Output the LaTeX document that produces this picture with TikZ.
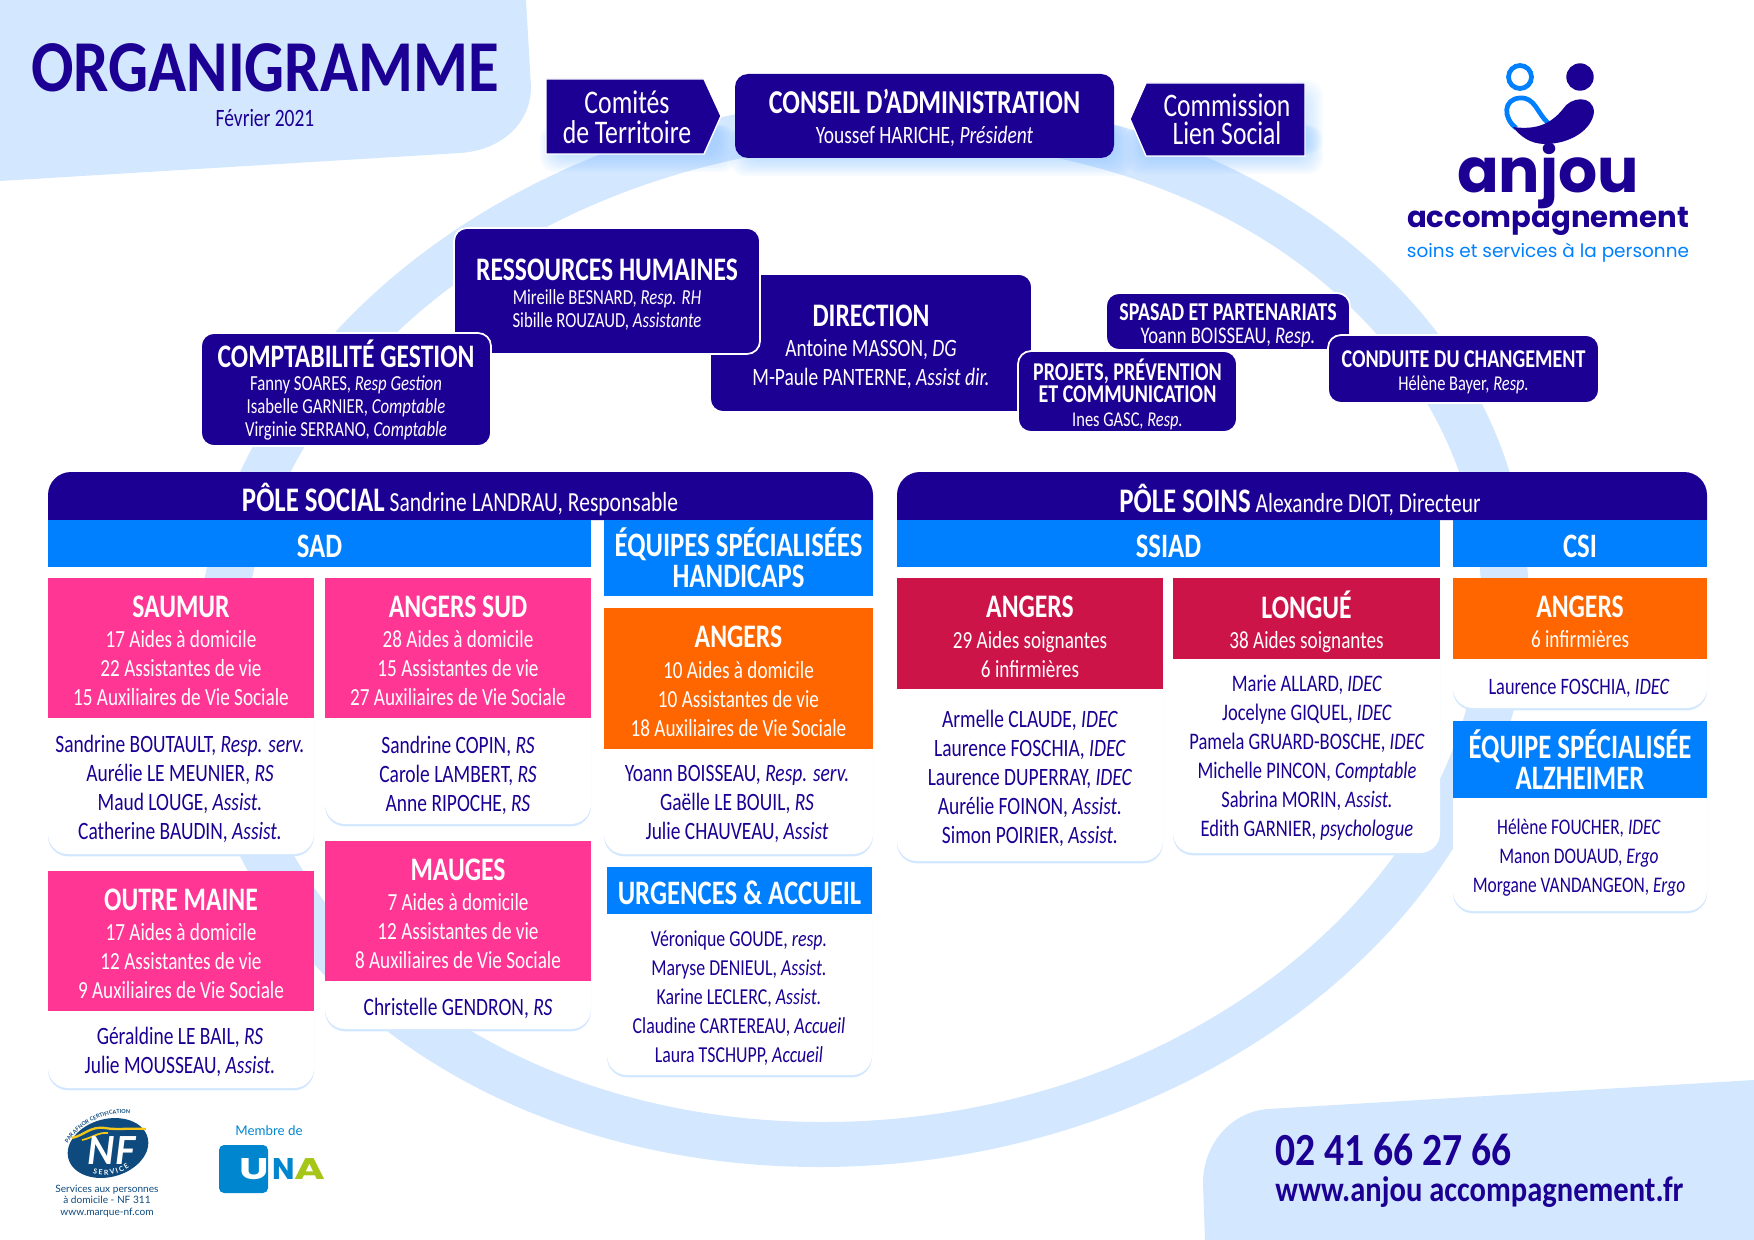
\documentclass[tikz,border=0pt]{standalone}
\usepackage{fontspec}
\setmainfont{Carlito}[FakeStretch=0.78]
\newfontfamily\widefont{Carlito}[FakeStretch=0.86]
\newfontfamily\logofont{Poppins}
\newfontfamily\unafont{Poppins}[FakeStretch=1.4]
\newfontfamily\badgefont{Lato}
\usetikzlibrary{shadows,decorations.text}

\definecolor{navy}{HTML}{1C0094}
\definecolor{ringBlue}{HTML}{D3E7FF}
\definecolor{glowBlue}{HTML}{8CC4FF}
\definecolor{barBlue}{HTML}{0080FF}
\definecolor{pinkPole}{HTML}{FF3693}
\definecolor{orangePole}{HTML}{FF6600}
\definecolor{redPole}{HTML}{CC1449}
\definecolor{nfBlue}{HTML}{0E4A7D}
\definecolor{nfYellow}{HTML}{F5C518}
\definecolor{unaBlue}{HTML}{0085CF}
\definecolor{unaGreen}{HTML}{A5C617}

\newcommand{\bigtitle}{\fontsize{18.7}{20}\selectfont\bfseries}
\newcommand{\smalltitle}{\fontsize{14.6}{16}\selectfont\bfseries}
\newcommand{\capfix}[1]{\rule{0pt}{#1pt}}

\begin{document}
\begin{tikzpicture}[x=0.02cm,y=-0.02cm,
    span/.style n args={4}{at={({(#1+#3)/2},{(#2+#4)/2})}, minimum width={(#3-#1)*0.02cm}, minimum height={(#4-#2)*0.02cm}},
    card/.style={rectangle, fill=white, rounded corners=0.4cm, inner sep=0pt, outer sep=0pt,
        drop shadow={shadow xshift=0pt, shadow yshift=-1.3pt, opacity=1, fill=ringBlue}},
    header/.style={rectangle, inner sep=0pt, outer sep=0pt, text=white, align=center,
        font=\fontsize{14}{16.44}\selectfont},
    bar/.style={rectangle, fill=barBlue, inner sep=0pt, outer sep=0pt, text=white, align=center,
        font=\fontsize{19.5}{17.6}\selectfont\bfseries},
    names/.style={text=navy, align=center, inner sep=0pt, font=\fontsize{14.2}{16.5}\selectfont},
    direction/.style={rectangle, fill=navy, draw=white, line width=1pt, rounded corners=0.26cm, inner sep=0pt,
        outer sep=0pt, text=white, align=center, font=\fontsize{12.2}{13.1}\selectfont},
    chevron/.style={fill=navy, draw=white, line width=0.8pt},
    poleHead/.style={text=white, inner sep=0pt, font=\fontsize{15.7}{17}\selectfont}
]
\useasboundingbox (0,0) rectangle (1754,1240);

% Background shapes
\fill[ringBlue] (0,0) -- (526,0) -- (531,87) .. controls (531,120) and (505,150) .. (460,153) -- (0,181) -- cycle;
\fill[ringBlue] (1754,1080) -- (1268,1109) .. controls (1230,1112) and (1203,1145) .. (1203,1183) -- (1205,1240) -- (1754,1240) -- cycle;

% Ring
\fill[ringBlue, even odd rule, shift={(862,632)}, xslant=0.08] (0,0) circle [x radius=665, y radius=535] (0,0) circle [x radius=618, y radius=490];

% Glow below the top boxes
\foreach \g in {2,4,...,20} {
    \fill[glowBlue, opacity=0.07, rounded corners=0.3cm] (560-\g,125) rectangle (716+\g,152+\g);
    \fill[glowBlue, opacity=0.07, rounded corners=0.3cm] (750-\g,125) rectangle (1112+\g,156+\g);
    \fill[glowBlue, opacity=0.07, rounded corners=0.3cm] (1146-\g,125) rectangle (1303+\g,154+\g);
    \fill[glowBlue, opacity=0.05, rounded corners=0.3cm] (1285,100-\g) rectangle (1303+\g,154);
}

% Title
\node[text=navy, inner sep=0pt, font=\widefont\fontsize{41.6}{44}\selectfont\bfseries] (title) at (265,68) {ORGANIGRAMME};
\node[text=navy, inner sep=0pt, font=\fontsize{14.2}{15}\selectfont] (date) at (265,118) {Février 2021};

% Conseil row
\fill[chevron] (546,79) -- (704,79) -- (721,116) -- (704,154) -- (546,154) -- cycle;
\node[text=white, inner sep=0pt, align=center, font=\fontsize{18.8}{17}\selectfont] (comites) at (627,117) {Comités\\de Territoire};
\node[direction, draw=none, span={735}{74}{1114}{158}, font=\fontsize{14.2}{16.8}\selectfont] (conseil) {\capfix{16}{\fontsize{19}{20}\selectfont\bfseries CONSEIL D’ADMINISTRATION}\\Youssef HARICHE, \textit{Président}};
\fill[chevron] (1146,83) -- (1305,83) -- (1305,156) -- (1146,156) -- (1130,119) -- cycle;
\node[text=white, inner sep=0pt, align=center, font=\fontsize{18.7}{16}\selectfont] (commission) at (1227,119) {Commission\\Lien Social};

% Directions, the overlapping boxes go last
\node[direction, span={710}{274}{1032}{412}, font=\fontsize{14.2}{16.44}\selectfont] (direction) {\capfix{17}{\bigtitle DIRECTION}\\[0.7pt]Antoine MASSON, \textit{DG}\\M-Paule PANTERNE, \textit{Assist dir.}};
\node[direction, span={454}{228}{760}{354}, font=\fontsize{12.2}{13.5}\selectfont] (rh) {\capfix{16.4}{\bigtitle RESSOURCES HUMAINES}\\Mireille BESNARD, \textit{Resp. RH}\\Sibille ROUZAUD, \textit{Assistante}};
\node[direction, span={201}{333}{491}{446}] (compta) {\capfix{16.6}{\bigtitle COMPTABILITÉ GESTION}\\[-0.3pt]Fanny SOARES, \textit{Resp Gestion}\\Isabelle GARNIER, \textit{Comptable}\\Virginie SERRANO, \textit{Comptable}};
\node[direction, span={1106}{293}{1350}{350}, font=\fontsize{13.6}{13}\selectfont] (spasad) {\capfix{14.3}{\smalltitle SPASAD ET PARTENARIATS}\\Yoann BOISSEAU, \textit{Resp.}};
\node[direction, span={1018}{351}{1237}{432}, font=\fontsize{12}{13}\selectfont] (projets) {\capfix{15.8}{\smalltitle PROJETS, PRÉVENTION}\\[-0.5pt]{\smalltitle ET COMMUNICATION}\\[1pt]Ines GASC, \textit{Resp.}};
\node[direction, span={1328}{335}{1599}{403}, font=\fontsize{12}{12.8}\selectfont] (conduite) {\capfix{13.1}{\smalltitle CONDUITE DU CHANGEMENT}\\Hélène Bayer, \textit{Resp.}};

% Pole headers
\fill[navy] (48,520) [rounded corners=0.46cm] -- (48,472) -- (873,472) [sharp corners] -- (873,520) -- cycle;
\fill[navy] (897,520) [rounded corners=0.46cm] -- (897,472) -- (1707,472) [sharp corners] -- (1707,520) -- cycle;
\node[poleHead] (poleSocial) at (460,500) {{\fontsize{19.6}{20}\selectfont\bfseries PÔLE SOCIAL} Sandrine LANDRAU, Responsable};
\node[poleHead] (poleSoins) at (1300,500) {{\fontsize{19.6}{20}\selectfont\bfseries PÔLE SOINS} Alexandre DIOT, Directeur};

% Blue bars
\node[bar, span={48}{520}{591}{567}] (barSad) {\capfix{16.3}SAD};
\node[bar, span={604}{520}{873}{596}] (barHandicap) {ÉQUIPES SPÉCIALISÉES\\HANDICAPS};
\node[bar, span={897}{520}{1440}{567}] (barSsiad) {\capfix{16.3}SSIAD};
\node[bar, span={1453}{520}{1707}{567}] (barCsi) {\capfix{16.3}CSI};

% SAD
\node[card, span={48}{650}{314}{854}] (saumurCard) {};
\node[header, fill=pinkPole, span={48}{578}{314}{718}] (saumur) {\capfix{15.4}{\bigtitle SAUMUR}\\[0.9pt]17 Aides à domicile\\22 Assistantes de vie\\15 Auxiliaires de Vie Sociale};
\node[names] (saumurNames) at (180,789) {Sandrine BOUTAULT, \textit{Resp. serv.}\\Aurélie LE MEUNIER, \textit{RS}\\Maud LOUGE, \textit{Assist.}\\Catherine BAUDIN, \textit{Assist.}};

\node[card, span={325}{650}{591}{824}] (sudCard) {};
\node[header, fill=pinkPole, span={325}{578}{591}{718}] (sud) {\capfix{15.4}{\bigtitle ANGERS SUD}\\[0.9pt]28 Aides à domicile\\15 Assistantes de vie\\27 Auxiliaires de Vie Sociale};
\node[names] (sudNames) at (458,775) {Sandrine COPIN, \textit{RS}\\Carole LAMBERT, \textit{RS}\\Anne RIPOCHE, \textit{RS}};

\node[card, span={48}{930}{314}{1088}] (outreCard) {};
\node[header, fill=pinkPole, span={48}{871}{314}{1011}] (outre) {\capfix{15.4}{\bigtitle OUTRE MAINE}\\[0.9pt]17 Aides à domicile\\12 Assistantes de vie\\9 Auxiliaires de Vie Sociale};
\node[names] (outreNames) at (180,1052) {Géraldine LE BAIL, \textit{RS}\\Julie MOUSSEAU, \textit{Assist.}};

\node[card, span={325}{900}{591}{1029}] (maugesCard) {};
\node[header, fill=pinkPole, span={325}{841}{591}{981}] (mauges) {\capfix{15.4}{\bigtitle MAUGES}\\[0.9pt]7 Aides à domicile\\12 Assistantes de vie\\8 Auxiliaires de Vie Sociale};
\node[names] (maugesNames) at (458,1008) {Christelle GENDRON, \textit{RS}};

% Equipes specialisees
\node[card, span={604}{680}{873}{854}] (handicapCard) {};
\node[header, fill=orangePole, span={604}{608}{873}{749}] (handicap) {\capfix{15.4}{\bigtitle ANGERS}\\[0.9pt]10 Aides à domicile\\10 Assistantes de vie\\18 Auxiliaires de Vie Sociale};
\node[names] (handicapNames) at (737,804) {Yoann BOISSEAU, \textit{Resp. serv.}\\Gaëlle LE BOUIL, \textit{RS}\\Julie CHAUVEAU, \textit{Assist}};

\node[card, span={607}{890}{872}{1075}] (urgencesCard) {};
\node[bar, span={607}{867}{872}{914}] (urgences) {\capfix{16.3}URGENCES \& ACCUEIL};
\node[names, font=\fontsize{13}{16.5}\selectfont] (urgencesNames) at (739,998) {Véronique GOUDE, \textit{resp.}\\Maryse DENIEUL, \textit{Assist.}\\Karine LECLERC, \textit{Assist.}\\Claudine CARTEREAU, \textit{Accueil}\\Laura TSCHUPP, \textit{Accueil}};

% SSIAD
\node[card, span={897}{640}{1163}{861}] (angersCard) {};
\node[header, fill=redPole, span={897}{578}{1163}{689}] (angers) {\capfix{16}{\bigtitle ANGERS}\\[0.9pt]29 Aides soignantes\\6 infirmières};
\node[names] (angersNames) at (1030,778) {Armelle CLAUDE, \textit{IDEC}\\Laurence FOSCHIA, \textit{IDEC}\\Laurence DUPERRAY, \textit{IDEC}\\Aurélie FOINON, \textit{Assist.}\\Simon POIRIER, \textit{Assist.}};

\node[card, span={1173}{620}{1440}{853}] (longueCard) {};
\node[header, fill=redPole, span={1173}{578}{1440}{659}] (longue) {\capfix{19.3}{\bigtitle LONGUÉ}\\[0.9pt]38 Aides soignantes};
\node[names, font=\fontsize{13.5}{16.5}\selectfont] (longueNames) at (1307,758) {Marie ALLARD, \textit{IDEC}\\Jocelyne GIQUEL, \textit{IDEC}\\Pamela GRUARD-BOSCHE, \textit{IDEC}\\Michelle PINCON, \textit{Comptable}\\Sabrina MORIN, \textit{Assist.}\\Edith GARNIER, \textit{psychologue}};

% CSI
\node[card, span={1453}{620}{1707}{708}] (csiCard) {};
\node[header, fill=orangePole, span={1453}{578}{1707}{659}] (csi) {\capfix{16}{\bigtitle ANGERS}\\[0.9pt]6 infirmières};
\node[names, font=\fontsize{13.4}{16.5}\selectfont] (csiNames) at (1579,688) {Laurence FOSCHIA, \textit{IDEC}};

\node[card, span={1453}{740}{1707}{911}] (alzCard) {};
\node[bar, span={1453}{721}{1707}{798}] (alz) {ÉQUIPE SPÉCIALISÉE\\ALZHEIMER};
\node[names, font=\fontsize{12.7}{16.5}\selectfont] (alzNames) at (1579,858) {Hélène FOUCHER, \textit{IDEC}\\Manon DOUAUD, \textit{Ergo}\\Morgane VANDANGEON, \textit{Ergo}};

% Logo anjou
\draw[barBlue, line width=2.7pt] (1520,77) circle [radius=11.5];
\fill[navy] (1580,77) circle [radius=13.7];
\draw[barBlue, line width=2.7pt] (1516,128) .. controls (1503,118) and (1503,99) .. (1520,98) .. controls (1535,97) and (1537,113) .. (1548,123);
\fill[navy] (1513,127) .. controls (1535,130) and (1550,125) .. (1563,109) .. controls (1570,97) and (1593,94) .. (1594,112) .. controls (1592,130) and (1570,144) .. (1545,144) .. controls (1530,144) and (1520,136) .. (1513,127) -- cycle;
\node[text=navy, anchor=base, inner sep=0pt, font=\logofont\fontsize{35}{35}\selectfont\bfseries] (logoAnjou) at (1548,193) {anjou};
\node[text=navy, anchor=base, inner sep=0pt, font=\logofont\fontsize{16.6}{17}\selectfont\bfseries] (logoAccomp) at (1548,228) {accompagnement};
\node[text=barBlue, anchor=base, inner sep=0pt, font=\logofont\fontsize{10.5}{11}\selectfont] (logoSoins) at (1548,257) {soins et services à la personne};

% Badge NF
\fill[nfBlue, rotate around={15:(108,1148)}] (108,1148) ellipse [x radius=41, y radius=29];
\draw[nfYellow, line width=1.3pt] (72,1138) .. controls (85,1135) and (90,1126) .. (105,1128) .. controls (115,1130) and (130,1128) .. (146,1129);
\draw[nfYellow, line width=1pt] (82,1140) .. controls (92,1138) and (98,1132) .. (108,1133);
\node[text=white, inner sep=0pt, font=\badgefont\fontsize{22}{22}\selectfont\bfseries\itshape] (nf) at (112,1151) {NF};
\path[decorate, decoration={text along path, text align=center, text={|\badgefont\fontsize{4}{5}\selectfont\bfseries\color{white}|S E R V I C E}}] (80,1167) .. controls (98,1181) and (124,1177) .. (140,1157);
\path[decorate, decoration={text along path, text align=center, text={|\badgefont\fontsize{3.1}{4}\selectfont\bfseries\color{nfBlue}|PAR AFNOR CERTIFICATION}}] (64,1152) .. controls (74,1124) and (108,1108) .. (139,1115);
\node[text=nfBlue, inner sep=0pt, align=center, font=\badgefont\fontsize{5.75}{6.6}\selectfont] (nfCaption) at (107,1201) {Services aux personnes\\à domicile - NF 311\\www.marque-nf.com};

% Badge UNA
\node[text=unaBlue, inner sep=0pt, font=\badgefont\fontsize{7.6}{8}\selectfont] (membre) at (269,1131) {Membre de};
\fill[unaBlue, rounded corners=0.1cm] (219,1145) rectangle (268,1193);
\node[text=white, inner sep=0pt, font=\unafont\fontsize{17}{17}\selectfont\bfseries] (unaU) at (254,1169) {U};
\node[text=unaBlue, inner sep=0pt, font=\logofont\fontsize{17}{17}\selectfont\bfseries] (unaN) at (284,1169) {N};
\node[text=unaGreen, inner sep=0pt, font=\unafont\fontsize{17}{17}\selectfont\bfseries] (unaA) at (310,1169) {A};

% Contact
\node[text=navy, anchor=west, inner sep=0pt, font=\widefont\fontsize{26.2}{26}\selectfont\bfseries] (phone) at (1275,1150) {02 41 66 27 66};
\node[text=navy, anchor=west, inner sep=0pt, font=\widefont\fontsize{20.2}{20}\selectfont\bfseries] (web) at (1275,1192) {www.anjou accompagnement.fr};

\end{tikzpicture}
\end{document}
